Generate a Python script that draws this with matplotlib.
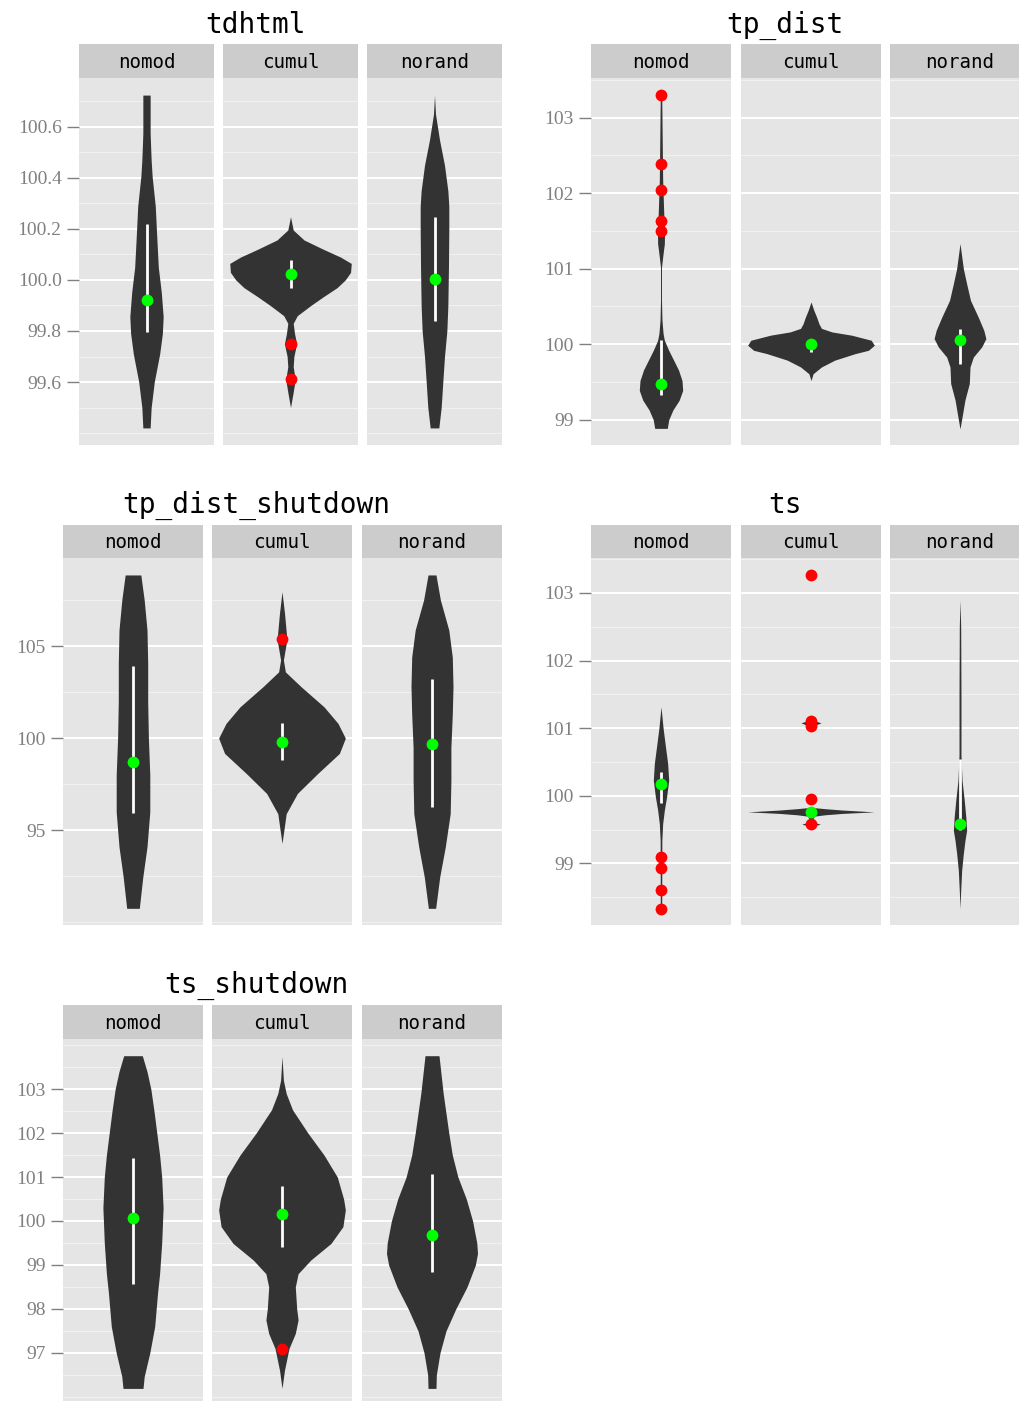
import numpy as np
import matplotlib
matplotlib.use("Agg")
import matplotlib.pyplot as plt

# ================== DATA ==================
groups = ["tdhtml", "tp_dist", "tp_dist_shutdown", "ts", "ts_shutdown"]
facets = ["nomod", "cumul", "norand"]

# violin outlines: (value, half width as share of the panel half width)
tdhtml_nomod = [(100.725, 0.054), (100.575, 0.054), (100.47, 0.069), (100.405, 0.084),
                (100.29, 0.13), (100.18, 0.15), (100.05, 0.175), (99.95, 0.22),
                (99.856, 0.247), (99.79, 0.235), (99.71, 0.195), (99.60, 0.115),
                (99.50, 0.069), (99.42, 0.054)]
tdhtml_cumul = [(100.248, 0.0), (100.196, 0.04), (100.157, 0.2), (100.12, 0.49),
                (100.09, 0.74), (100.065, 0.90), (100.03, 0.89), (100.0, 0.81),
                (99.97, 0.69), (99.935, 0.49), (99.90, 0.30), (99.86, 0.10),
                (99.83, 0.04), (99.79, 0.06), (99.75, 0.09), (99.70, 0.05),
                (99.66, 0.04), (99.61, 0.07), (99.56, 0.04), (99.50, 0.0)]
tdhtml_norand = [(100.725, 0.0), (100.65, 0.015), (100.55, 0.074), (100.45, 0.148),
                 (100.35, 0.198), (100.29, 0.212), (100.2, 0.212), (100.05, 0.207),
                 (99.9, 0.198), (99.8, 0.183), (99.7, 0.148), (99.6, 0.123),
                 (99.5, 0.099), (99.42, 0.064)]

tp_dist_nomod = [(103.28, 0.01), (103.0, 0.014), (102.57, 0.019), (102.17, 0.024),
                 (101.82, 0.036), (101.47, 0.05), (101.33, 0.048), (101.2, 0.03),
                 (101.02, 0.007), (100.58, 0.007), (100.32, 0.014), (100.14, 0.03),
                 (100.053, 0.048), (99.92, 0.11), (99.79, 0.18), (99.66, 0.25),
                 (99.52, 0.30), (99.39, 0.31), (99.26, 0.26), (99.13, 0.17),
                 (99.0, 0.11), (98.887, 0.09)]
tp_dist_cumul = [(100.56, 0.0), (100.45, 0.04), (100.36, 0.08), (100.27, 0.114),
                 (100.21, 0.15), (100.163, 0.3), (100.12, 0.58), (100.053, 0.86),
                 (99.987, 0.905), (99.92, 0.82), (99.876, 0.63), (99.79, 0.34),
                 (99.7, 0.15), (99.61, 0.03), (99.52, 0.0)]
tp_dist_norand = [(101.333, 0.0), (101.0, 0.048), (100.8, 0.095), (100.58, 0.15),
                  (100.36, 0.26), (100.185, 0.34), (100.075, 0.37), (99.965, 0.31),
                  (99.83, 0.19), (99.7, 0.143), (99.48, 0.133), (99.26, 0.07),
                  (99.04, 0.03), (98.88, 0.0)]

tp_dist_shutdown_nomod = [(108.86, 0.112), (107.5, 0.16), (105.87, 0.2), (104.06, 0.21),
                          (102.0, 0.21), (100.0, 0.22), (98.0, 0.24), (96.0, 0.24),
                          (94.1, 0.2), (92.46, 0.14), (90.76, 0.09)]
tp_dist_shutdown_cumul = [(107.95, 0.0), (106.78, 0.036), (105.36, 0.07), (104.24, 0.02),
                          (103.6, 0.048), (102.8, 0.27), (101.7, 0.6), (100.8, 0.8),
                          (100.0, 0.905), (99.17, 0.82), (98.08, 0.51), (97.0, 0.22),
                          (95.9, 0.06), (94.28, 0.0)]
tp_dist_shutdown_norand = [(108.86, 0.057), (107.5, 0.12), (105.87, 0.24), (104.4, 0.29),
                           (102.8, 0.3), (101.3, 0.29), (99.5, 0.27), (97.7, 0.27),
                           (95.9, 0.26), (94.1, 0.19), (92.46, 0.11), (90.76, 0.052)]

ts_nomod = [(101.317, 0.0), (101.0, 0.03), (100.725, 0.064), (100.48, 0.095),
            (100.23, 0.11), (99.985, 0.08), (99.79, 0.048), (99.59, 0.024),
            (99.34, 0.012), (98.33, 0.01)]
ts_cumul = [(101.13, 0.0), (101.1, 0.08), (101.08, 0.143), (101.05, 0.07), (101.03, 0.0),
            (99.83, 0.0), (99.81, 0.2), (99.79, 0.45), (99.763, 0.905), (99.74, 0.45),
            (99.72, 0.2), (99.70, 0.05), (99.615, 0.0), (99.6, 0.07), (99.58, 0.133),
            (99.56, 0.05), (99.545, 0.0)]
ts_norand = [(102.895, 0.0), (102.5, 0.01), (101.5, 0.014), (100.6, 0.014),
             (100.23, 0.029), (99.94, 0.06), (99.69, 0.083), (99.49, 0.095),
             (99.34, 0.071), (99.15, 0.048), (98.9, 0.024), (98.6, 0.01), (98.33, 0.0)]

ts_shutdown_nomod = [(103.76, 0.133), (103.4, 0.2), (103.0, 0.255), (102.5, 0.3),
                     (102.0, 0.34), (101.5, 0.38), (101.0, 0.41), (100.3, 0.43),
                     (99.5, 0.41), (98.8, 0.38), (98.35, 0.35), (97.6, 0.31),
                     (97.0, 0.24), (96.46, 0.16), (96.19, 0.143)]
ts_shutdown_cumul = [(103.74, 0.0), (103.2, 0.02), (102.9, 0.06), (102.53, 0.15),
                     (102.0, 0.37), (101.5, 0.6), (101.0, 0.79), (100.5, 0.88),
                     (100.25, 0.905), (99.87, 0.87), (99.49, 0.7), (99.11, 0.41),
                     (98.8, 0.23), (98.5, 0.19), (98.0, 0.21), (97.75, 0.23),
                     (97.44, 0.19), (97.1, 0.1), (96.6, 0.035), (96.19, 0.0)]
ts_shutdown_norand = [(103.76, 0.1), (102.9, 0.16), (102.0, 0.24), (101.5, 0.29),
                      (101.0, 0.37), (100.5, 0.49), (100.0, 0.58), (99.5, 0.64),
                      (99.26, 0.65), (99.0, 0.62), (98.5, 0.5), (98.0, 0.34),
                      (97.5, 0.2), (97.0, 0.114), (96.5, 0.062), (96.19, 0.057)]

# summaries: centre dot, white line ends, outliers (per facet)
tdhtml_center = [99.92, 100.022, 100.005]
tdhtml_lo = [99.797, 99.967, 99.84]
tdhtml_hi = [100.218, 100.078, 100.248]
tdhtml_out = [[], [99.748, 99.612], []]

tp_dist_center = [99.47, 100.0, 100.053]
tp_dist_lo = [99.333, 99.9, 99.744]
tp_dist_hi = [100.053, 100.075, 100.207]
tp_dist_out = [[103.298, 102.384, 102.044, 101.629, 101.497], [], []]

tp_dist_shutdown_center = [98.73, 99.78, 99.69]
tp_dist_shutdown_lo = [95.91, 98.8, 96.27]
tp_dist_shutdown_hi = [103.93, 100.83, 103.19]
tp_dist_shutdown_out = [[], [105.36], []]

ts_center = [100.18, 99.763, 99.58]
ts_lo = [99.887, 99.74, 99.49]
ts_hi = [100.355, 99.79, 100.55]
ts_out = [[99.097, 98.94, 98.614, 98.328], [103.265, 101.10, 101.036, 99.96, 99.586], []]

ts_shutdown_center = [100.076, 100.16, 99.68]
ts_shutdown_lo = [98.56, 99.4, 98.85]
ts_shutdown_hi = [101.44, 100.8, 101.06]
ts_shutdown_out = [[], [97.09], []]

# y scales
ylims = [(99.353, 100.792), (98.667, 103.523), (89.855, 109.78), (98.09, 103.517), (95.79, 104.14)]
major_ticks = [[99.6, 99.8, 100.0, 100.2, 100.4, 100.6], [99, 100, 101, 102, 103],
               [95, 100, 105], [99, 100, 101, 102, 103], [97, 98, 99, 100, 101, 102, 103]]
minor_ticks = [[99.4, 99.5, 99.7, 99.9, 100.1, 100.3, 100.5, 100.7],
               [99.5, 100.5, 101.5, 102.5, 103.5],
               [90, 92.5, 97.5, 102.5, 107.5],
               [98.5, 99.5, 100.5, 101.5, 102.5, 103.5],
               [96, 96.5, 97.5, 98.5, 99.5, 100.5, 101.5, 102.5, 103.5, 104]]
tick_fmt = ["{:.1f}", "{:.0f}", "{:.0f}", "{:.0f}", "{:.0f}"]

outlines = {
    "tdhtml": [tdhtml_nomod, tdhtml_cumul, tdhtml_norand],
    "tp_dist": [tp_dist_nomod, tp_dist_cumul, tp_dist_norand],
    "tp_dist_shutdown": [tp_dist_shutdown_nomod, tp_dist_shutdown_cumul, tp_dist_shutdown_norand],
    "ts": [ts_nomod, ts_cumul, ts_norand],
    "ts_shutdown": [ts_shutdown_nomod, ts_shutdown_cumul, ts_shutdown_norand],
}
summaries = {
    "tdhtml": (tdhtml_center, tdhtml_lo, tdhtml_hi, tdhtml_out),
    "tp_dist": (tp_dist_center, tp_dist_lo, tp_dist_hi, tp_dist_out),
    "tp_dist_shutdown": (tp_dist_shutdown_center, tp_dist_shutdown_lo,
                         tp_dist_shutdown_hi, tp_dist_shutdown_out),
    "ts": (ts_center, ts_lo, ts_hi, ts_out),
    "ts_shutdown": (ts_shutdown_center, ts_shutdown_lo, ts_shutdown_hi, ts_shutdown_out),
}

# ================== LAYOUT (pixels) ==================
W, H = 1019, 1401
# per group: panel x-ranges, title x, title y, strip top, panel top, panel bottom
layout = [
    ([(79, 214), (223, 358), (367, 502)], 256, 25, 44, 78, 445),
    ([(591, 731), (741, 881), (890, 1030)], 785, 25, 44, 78, 445),
    ([(63, 203), (212, 352), (362, 502)], 256, 505, 525, 558, 925),
    ([(591, 731), (741, 881), (890, 1030)], 785, 505, 525, 558, 925),
    ([(63, 203), (212, 352), (362, 502)], 256, 985, 1005, 1039, 1406),
]

PANEL_BG = "#E5E5E5"
STRIP_BG = "#CCCCCC"
VIOLIN = "#333333"
GREY = "#808080"


def box(x0, y0, x1, y1):
    return [x0 / W, 1 - y1 / H, (x1 - x0) / W, (y1 - y0) / H]


fig = plt.figure(figsize=(W / 100, H / 100), dpi=100)

for gi, g in enumerate(groups):
    xs, title_x, title_y, strip_top, ptop, pbot = layout[gi]
    center, lo, hi, outl = summaries[g]
    for fi, f in enumerate(facets):
        x0, x1 = xs[fi]
        ax = fig.add_axes(box(x0, ptop, x1, pbot))
        ax.set_facecolor(PANEL_BG)
        ax.set_xlim(-1, 1)
        ax.set_ylim(*ylims[gi])
        for s in ax.spines.values():
            s.set_visible(False)
        ax.set_xticks([])
        for v in minor_ticks[gi]:
            ax.axhline(v, color="#F2F2F2", lw=0.7, zorder=0.5)
        for v in major_ticks[gi]:
            ax.axhline(v, color="white", lw=1.4, zorder=0.6)

        prof = np.array(outlines[g][fi])
        ax.fill_betweenx(prof[:, 0], -prof[:, 1], prof[:, 1], color=VIOLIN, lw=0, zorder=2)
        ax.plot([0, 0], [lo[fi], hi[fi]], color="white", lw=2.0, solid_capstyle="butt", zorder=3)
        if outl[fi]:
            ax.plot(np.zeros(len(outl[fi])), outl[fi], "o", color="#FF0000", ms=8.5,
                    mew=0, zorder=4)
        ax.plot([0], [center[fi]], "o", color="#00FF00", ms=8.5, mew=0, zorder=5)

        if fi == 0:
            ax.set_yticks(major_ticks[gi])
            ax.set_yticklabels([tick_fmt[gi].format(v) for v in major_ticks[gi]],
                               family="Liberation Serif", fontsize=14, color=GREY)
            ax.tick_params(axis="y", length=8.5, width=1.0, color=GREY, pad=4)
        else:
            ax.set_yticks([])

        sax = fig.add_axes(box(x0, strip_top, x1, ptop))
        sax.set_facecolor(STRIP_BG)
        sax.set_xticks([])
        sax.set_yticks([])
        for s in sax.spines.values():
            s.set_visible(False)
        sax.text(0.5, 0.47, f, ha="center", va="center", family="DejaVu Sans Mono",
                 fontsize=13.8, transform=sax.transAxes)

    fig.text(title_x / W, 1 - title_y / H, g, ha="center", va="center",
             family="DejaVu Sans Mono", fontsize=20)

fig.savefig("out.png", dpi=100, facecolor="white")
